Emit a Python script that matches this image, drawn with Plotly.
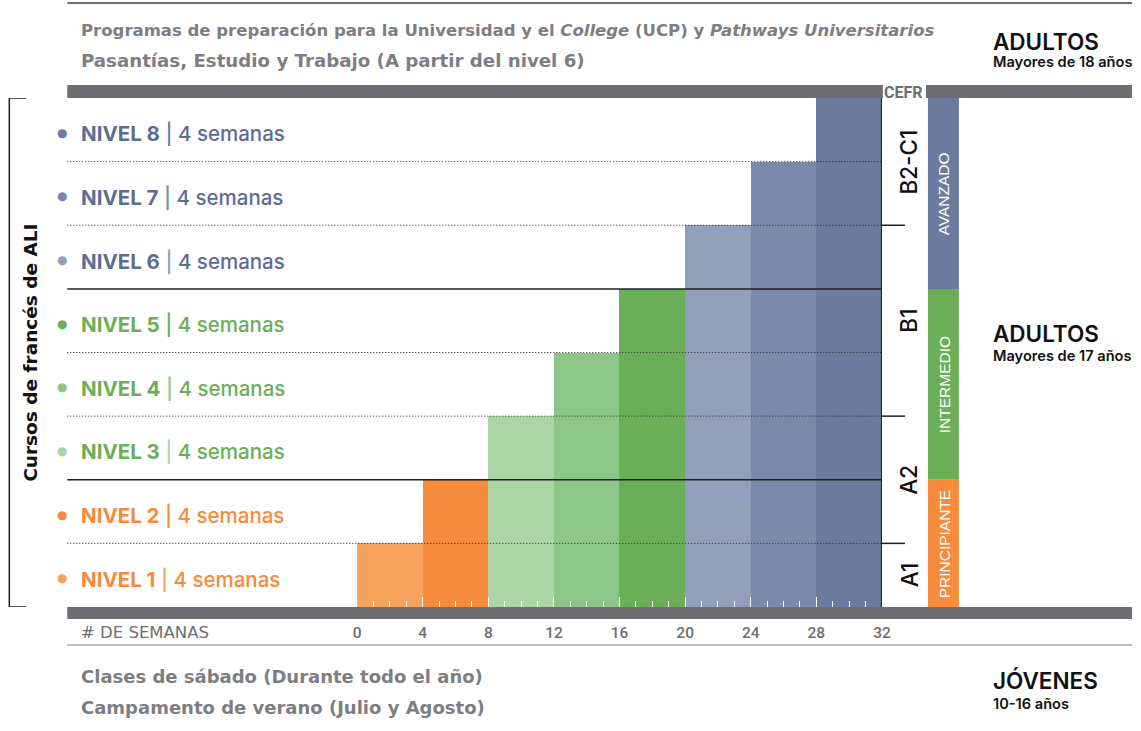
import plotly.graph_objects as go

W, H = 1141, 731
SX, X0 = 0.989, 3.7  # horizontal capture compensation (observed)

# ---------------- data ----------------
levels = ["NIVEL 1", "NIVEL 2", "NIVEL 3", "NIVEL 4", "NIVEL 5", "NIVEL 6", "NIVEL 7", "NIVEL 8"]
durations = [4, 4, 4, 4, 4, 4, 4, 4]
duration_label = "4 semanas"
bar_colors = ["#f6a25c", "#f58b3b", "#acd5a6", "#8dc687", "#6aaf58", "#919fba", "#7b89ab", "#6b7a9d"]
text_colors = ["#f58b3b", "#f58b3b", "#6aaf58", "#6aaf58", "#6aaf58", "#5c6d94", "#5c6d94", "#5c6d94"]
dot_colors = ["#f6a25c", "#f58b3b", "#acd5a6", "#8dc687", "#6aaf58", "#919fba", "#7b89ab", "#6b7a9d"]
week_ticks = [0, 4, 8, 12, 16, 20, 24, 28, 32]
cefr_labels = ["A1", "A2", "B1", "B2-C1"]
cefr_bounds = [0, 1, 3, 6, 8]
stage_labels = ["PRINCIPIANTE", "INTERMEDIO", "AVANZADO"]
stage_bounds = [0, 2, 5, 8]
stage_colors = ["#f58b3b", "#6aaf58", "#6b7a9d"]
separator_styles = ["dot", "solid", "dot", "dot", "solid", "dot", "dot"]  # between rows 1..7

title_lines = [
    "Programas de preparación para la Universidad y el <i>College</i> (UCP) y <i>Pathways Universitarios</i>",
    "Pasantías, Estudio y Trabajo (A partir del nivel 6)",
]
bottom_lines = [
    "Clases de sábado (Durante todo el año)",
    "Campamento de verano (Julio y Agosto)",
]
right_groups = [("ADULTOS", "Mayores de 18 años"),
                ("ADULTOS", "Mayores de 17 años"),
                ("JÓVENES", "10-16 años")]

# ---------------- helpers ----------------
def fx(x):
    return ((x - X0) / SX) / W


def fy(y):
    return 1 - y / H


starts = [sum(durations[:i]) for i in range(len(durations))]
centers = [s + d / 2 for s, d in zip(starts, durations)]
heights = list(range(1, len(levels) + 1))

GRAY = "#6d6e71"
TXT_GRAY = "#7d7e81"
DARK = "#231f20"
TITLE_FONT = "DejaVu Sans, sans-serif"
TICK_FONT = "Roboto, sans-serif"
LABEL_FONT = "Inter, Noto Sans, sans-serif"

fig = go.Figure()
fig.add_trace(go.Bar(
    x=centers, y=heights, width=durations,
    marker=dict(color=bar_colors, line=dict(width=0)),
    hoverinfo="skip", showlegend=False,
))

shapes = []
ann = []

# bands / lines (paper coordinates)
shapes.append(dict(type="line", xref="paper", yref="paper", x0=fx(67), x1=1, y0=fy(3), y1=fy(3),
                   line=dict(color="#6d6e71", width=2)))
shapes.append(dict(type="rect", xref="paper", yref="paper", x0=fx(67), x1=1, y0=fy(98), y1=fy(85),
                   fillcolor=GRAY, line=dict(width=0), layer="above"))
shapes.append(dict(type="rect", xref="paper", yref="paper", x0=fx(883), x1=fx(926), y0=fy(98), y1=fy(85),
                   fillcolor="white", line=dict(width=0), layer="above"))
shapes.append(dict(type="rect", xref="paper", yref="paper", x0=fx(67), x1=1, y0=fy(619), y1=fy(607),
                   fillcolor=GRAY, line=dict(width=0), layer="above"))
shapes.append(dict(type="line", xref="paper", yref="paper", x0=fx(67), x1=1, y0=fy(645), y1=fy(645),
                   line=dict(color="#bcbec0", width=2)))

# row separators
for i, st in enumerate(separator_styles):
    shapes.append(dict(type="line", xref="paper", yref="y", x0=fx(67), x1=fx(882), y0=i + 1, y1=i + 1,
                       line=dict(color=DARK, width=1.5 if st == "solid" else 1,
                                 dash="solid" if st == "solid" else "1px,2px"), layer="above"))

# vertical CEFR line
shapes.append(dict(type="line", xref="x", yref="y", x0=32, x1=32, y0=0, y1=8,
                   line=dict(color=DARK, width=2), layer="above"))
for b in cefr_bounds[1:-1]:
    shapes.append(dict(type="line", xref="paper", yref="y", x0=fx(882), x1=fx(905), y0=b, y1=b,
                       line=dict(color=DARK, width=1.5), layer="above"))
for lab, b0, b1 in zip(cefr_labels, cefr_bounds[:-1], cefr_bounds[1:]):
    ann.append(dict(xref="paper", yref="y", x=fx(909), y=(b0 + b1) / 2, text=lab, textangle=-90,
                    showarrow=False, font=dict(family=LABEL_FONT, size=22.5, color="#111111", weight=500),
                    xanchor="center", yanchor="middle"))

# stage bands
for lab, b0, b1, c in zip(stage_labels, stage_bounds[:-1], stage_bounds[1:], stage_colors):
    shapes.append(dict(type="rect", xref="paper", yref="y", x0=fx(928), x1=fx(959), y0=b0, y1=b1,
                       fillcolor=c, line=dict(width=0)))
    ann.append(dict(xref="paper", yref="y", x=fx(944), y=(b0 + b1) / 2, text=lab, textangle=-90,
                    showarrow=False, font=dict(family="Liberation Sans, Arial, sans-serif", size=15.5, color="white"),
                    xanchor="center", yanchor="middle"))

ann.append(dict(xref="paper", yref="paper", x=fx(904), y=fy(92), text="<b>CEFR</b>", showarrow=False,
                font=dict(family=TICK_FONT, size=16, color=GRAY), xanchor="center", yanchor="middle"))

# left bracket
shapes.append(dict(type="path", xref="paper", yref="y",
                   path=f"M {fx(26)},8 L {fx(9)},8 L {fx(9)},0 L {fx(26)},0",
                   line=dict(color=DARK, width=1.5)))
ann.append(dict(xref="paper", yref="y", x=fx(30), y=4, text="<b>Cursos de francés de ALI</b>", textangle=-90,
                showarrow=False, font=dict(family=TITLE_FONT, size=18.5, color="#111111"),
                xanchor="center", yanchor="middle"))

# level labels
for i, (lv, tc, dc) in enumerate(zip(levels, text_colors, dot_colors)):
    ann.append(dict(xref="paper", yref="y", x=fx(62), y=i + 0.5, yshift=-3, text="●", showarrow=False,
                    font=dict(family="DejaVu Sans, sans-serif", size=12, color=dc),
                    xanchor="center", yanchor="middle"))
    ann.append(dict(xref="paper", yref="y", x=fx(79), y=i + 0.5, yshift=-4,
                    text=f"<b>{lv}</b> <span style='color:{dc}'>|</span> {duration_label}",
                    showarrow=False, font=dict(family=LABEL_FONT, size=20.5, color=tc, weight=500),
                    xanchor="left", yanchor="middle"))

# titles
title_sizes = [16.5, 18.2]
for j, t in enumerate(title_lines):
    ann.append(dict(xref="paper", yref="paper", x=fx(79), y=fy(31 + 30 * j), text=f"<b>{t}</b>",
                    showarrow=False, font=dict(family=TITLE_FONT, size=title_sizes[j], color=TXT_GRAY),
                    xanchor="left", yanchor="middle"))
for j, t in enumerate(bottom_lines):
    ann.append(dict(xref="paper", yref="paper", x=fx(79), y=fy(676 + 31 * j), text=f"<b>{t}</b>",
                    showarrow=False, font=dict(family=TITLE_FONT, size=18, color=TXT_GRAY),
                    xanchor="left", yanchor="middle"))

# right labels
right_pos = [(41, 62), (333, 356), (680, 704)]
for (big, small), (y1, y2) in zip(right_groups, right_pos):
    ann.append(dict(xref="paper", yref="paper", x=fx(991), y=fy(y1), text=big, showarrow=False,
                    font=dict(family=LABEL_FONT, size=22.5, color="#111111", weight=600),
                    xanchor="left", yanchor="middle"))
    ann.append(dict(xref="paper", yref="paper", x=fx(991), y=fy(y2), text=small, showarrow=False,
                    font=dict(family=LABEL_FONT, size=14.6, color="#111111", weight=600),
                    xanchor="left", yanchor="middle"))

# axis title text
ann.append(dict(xref="paper", yref="paper", x=fx(79), y=fy(632), text="# DE SEMANAS", showarrow=False,
                font=dict(family=TITLE_FONT, size=16.5, color=GRAY), xanchor="left", yanchor="middle"))

fig.update_layout(
    width=W, height=H,
    margin=dict(l=0, r=0, t=0, b=0),
    paper_bgcolor="white", plot_bgcolor="white",
    bargap=0,
    shapes=shapes, annotations=ann,
    xaxis=dict(domain=[fx(357), fx(882)], range=[0, 32], tickvals=week_ticks,
               ticks="inside", ticklen=10, tickcolor="white", tickwidth=1.2,
               minor=dict(dtick=1, ticks="inside", ticklen=6, tickcolor="white", tickwidth=1),
               showgrid=False, zeroline=False, showline=False,
               tickfont=dict(family=TICK_FONT, size=15.5, color=GRAY, weight=500), ticklabelstandoff=14),
    yaxis=dict(domain=[fy(607), fy(98)], range=[0, 8], showticklabels=False, showgrid=False,
               zeroline=False, ticks=""),
)

fig.write_html("out.html", config={"displayModeBar": False},
               post_script="document.body.style.margin='0';")
